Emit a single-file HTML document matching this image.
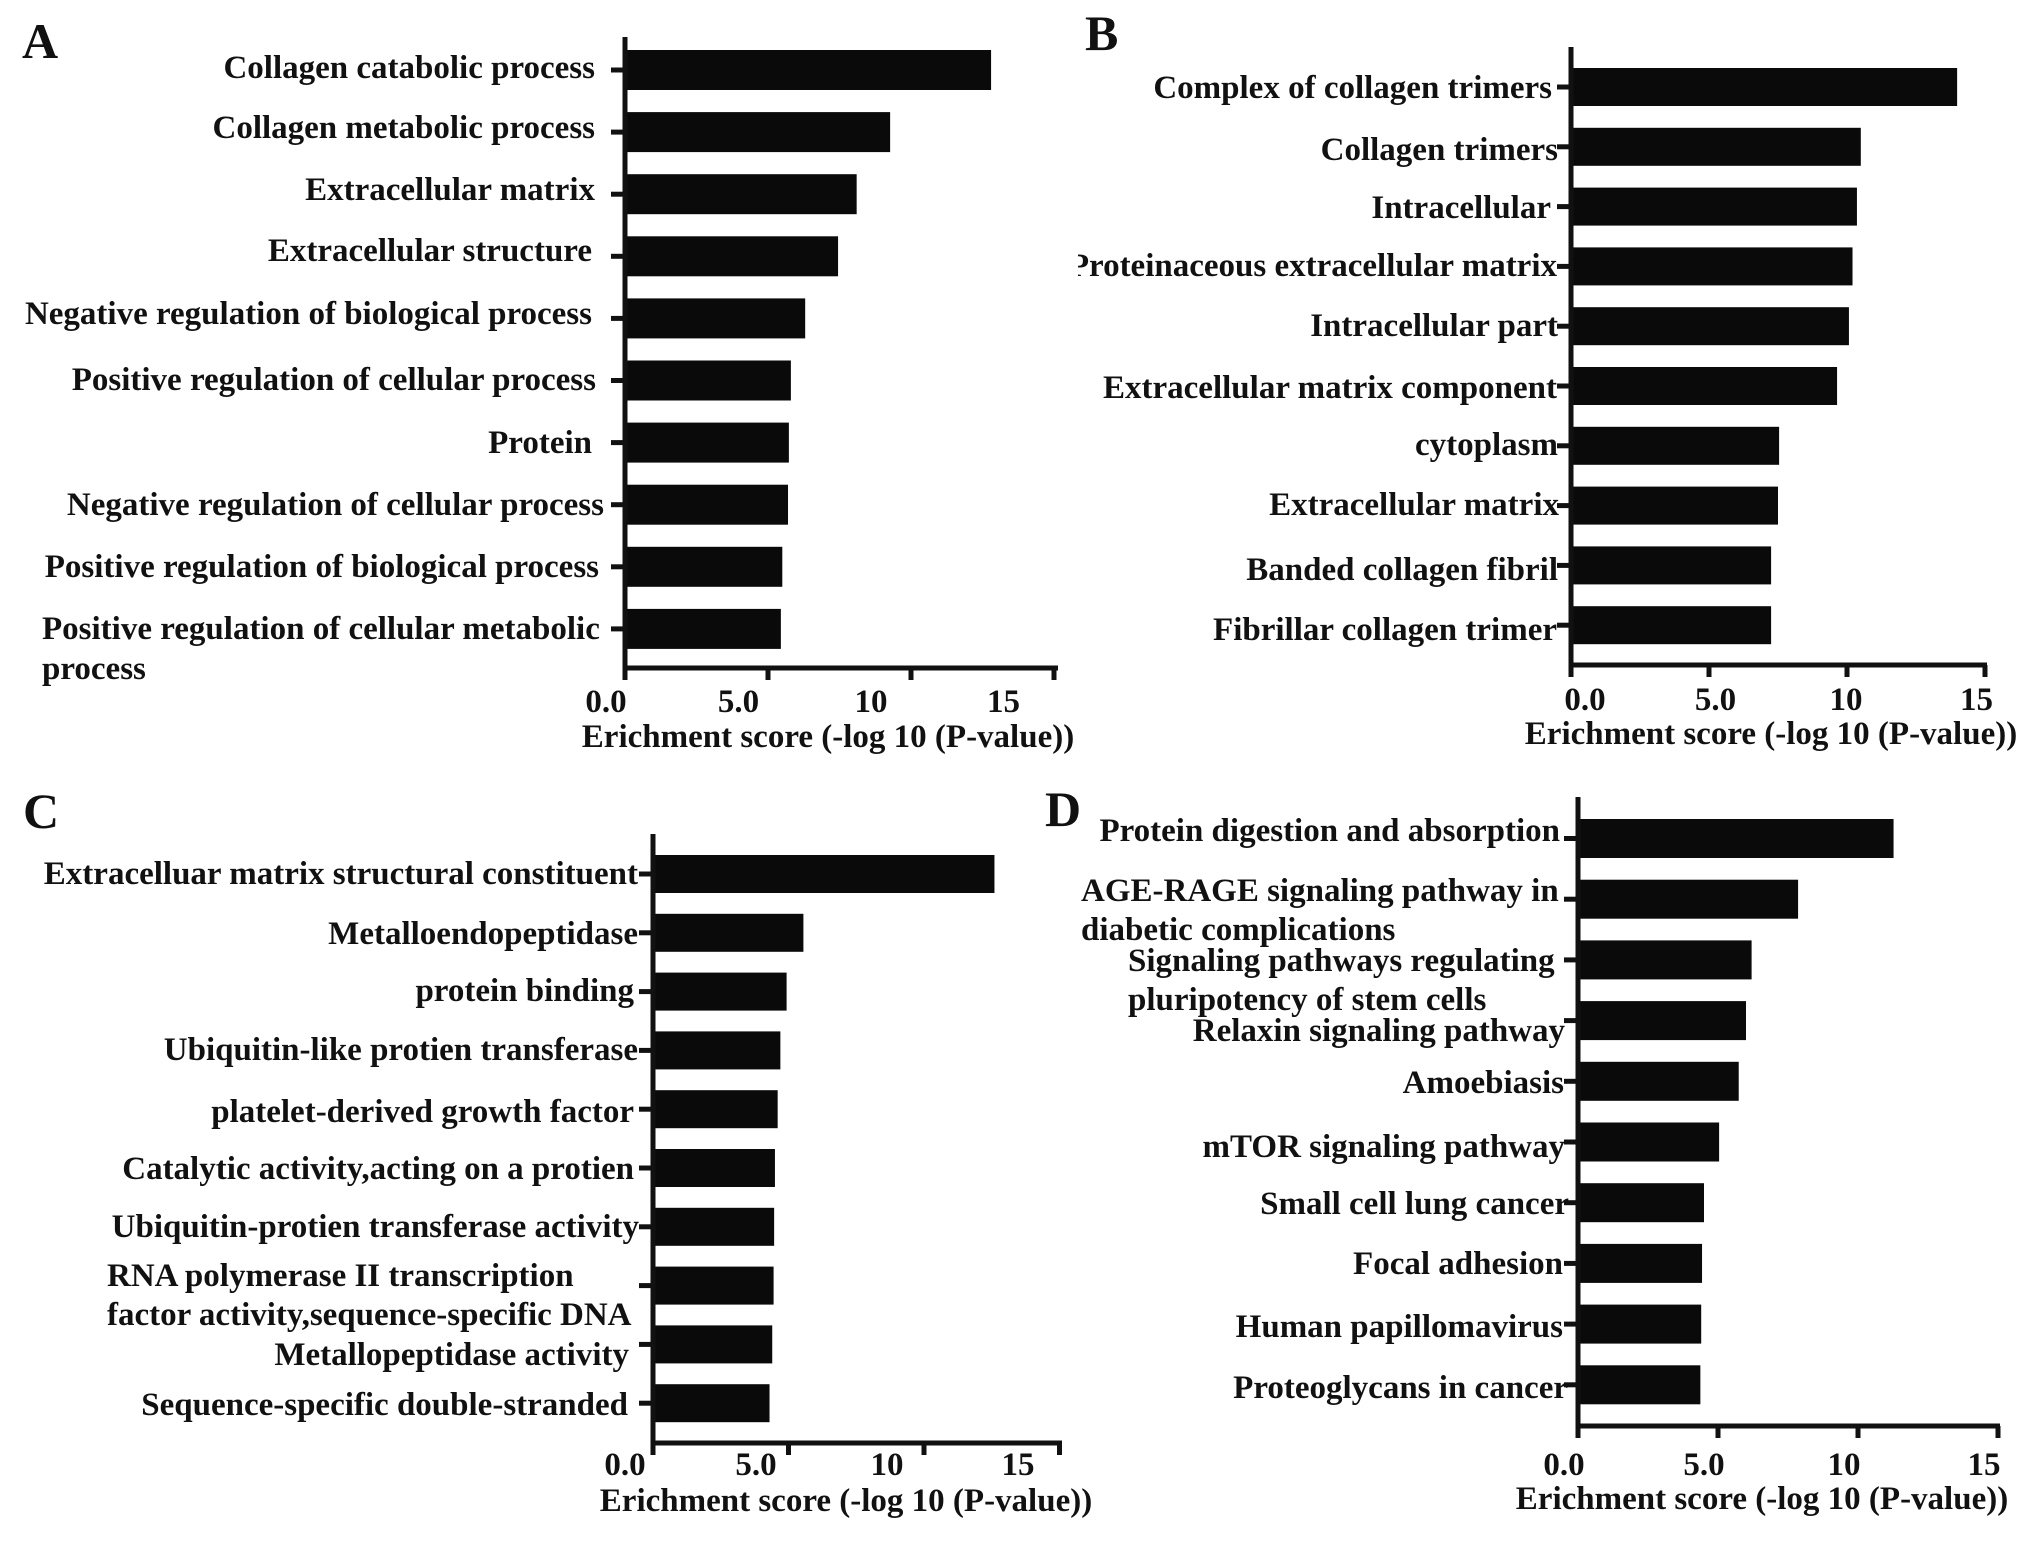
<!DOCTYPE html>
<html><head><meta charset="utf-8"><style>
html,body{margin:0;padding:0;background:#fff;}
svg{display:block;}
text{font-family:"Liberation Serif",serif;font-weight:bold;fill:#111;}
</style></head><body>
<svg id="fig" width="2031" height="1544" viewBox="0 0 2031 1544" xmlns="http://www.w3.org/2000/svg">
<defs><clipPath id="clipB"><rect x="1078" y="0" width="600" height="780"/></clipPath></defs>
<text x="22" y="58" font-size="50">A</text>
<text x="1085" y="50" font-size="50">B</text>
<text x="23" y="828" font-size="50">C</text>
<text x="1045" y="826" font-size="50">D</text>
</svg>
<script>
const tickValues=[0,5,10,15];
const tickLabels=["0.0","5.0","10","15"];
const aCategories=["Collagen catabolic process","Collagen metabolic process","Extracellular matrix","Extracellular structure","Negative regulation of biological process","Positive regulation of cellular process","Protein","Negative regulation of cellular process","Positive regulation of biological process","Positive regulation of cellular metabolic process"];
const aValues=[12.8,9.27,8.1,7.45,6.3,5.8,5.73,5.7,5.5,5.45];
const bCategories=["Complex of  collagen trimers","Collagen trimers","Intracellular","Proteinaceous extracellular matrix","Intracellular part","Extracellular matrix component","cytoplasm","Extracellular matrix","Banded collagen fibril","Fibrillar collagen trimer"];
const bValues=[13.99,10.5,10.36,10.2,10.07,9.64,7.54,7.5,7.25,7.25];
const cCategories=["Extracelluar matrix structural constituent","Metalloendopeptidase","protein binding","Ubiquitin-like protien transferase","platelet-derived growth factor","Catalytic activity,acting on a protien","Ubiquitin-protien transferase activity","RNA polymerase II transcription factor activity,sequence-specific DNA","Metallopeptidase activity","Sequence-specific double-stranded"];
const cValues=[12.6,5.55,4.93,4.7,4.6,4.5,4.47,4.45,4.4,4.3];
const dCategories=["Protein digestion and absorption","AGE-RAGE signaling pathway in diabetic complications","Signaling pathways regulating pluripotency of stem cells","Relaxin signaling pathway","Amoebiasis","mTOR signaling pathway","Small cell lung cancer","Focal adhesion","Human papillomavirus","Proteoglycans in cancer"];
const dValues=[11.27,7.86,6.2,6.0,5.74,5.04,4.5,4.43,4.4,4.37];
const axisTitle="Erichment score (-log 10 (P-value))";

const svg=document.getElementById('fig');
const NS="http://www.w3.org/2000/svg";
const FS=33;
function mk(tag,attrs,parent){const e=document.createElementNS(NS,tag);for(const k in attrs)e.setAttribute(k,attrs[k]);(parent||svg).appendChild(e);return e;}

const panels=[
 {id:'a',cats:aCategories,vals:aValues,x0:625,k:28.6,xEnd:1058,top:37,bottom:668,y0:70,dy:62.1,bh:40,lx0:606,lk:26.5,ly:702,tx:828,ty:737,
  labels:[[595,68,'end',[0]],[595,128,'end',[1]],[595,190,'end',[2]],[592,251,'end',[3]],[592,314,'end',[4]],[596,380,'end',[5]],[592,443,'end',[6]],[604,505,'end',[7]],[599,567,'end',[8]]],
  multi:[{x:42,anchor:'start',lines:[["Positive regulation of cellular metabolic",629],["process",669]]}]},
 {id:'b',cats:bCategories,vals:bValues,x0:1571,k:27.6,xEnd:1987,top:47,bottom:665,y0:87,dy:59.8,bh:38,lx0:1585,lk:26.1,ly:700,tx:1771,ty:734,
  labels:[[1552,88,'end',[0]],[1558,150,'end',[1]],[1551,208,'end',[2]],[1557,266,'end',[3]],[1558,326,'end',[4]],[1557,388,'end',[5]],[1558,445,'end',[6]],[1559,505,'end',[7]],[1558,570,'end',[8]],[1557,630,'end',[9]]],multi:[]},
 {id:'c',cats:cCategories,vals:cValues,x0:653,k:27.1,xEnd:1062,top:834,bottom:1443,y0:874,dy:58.8,bh:38,lx0:625,lk:26.2,ly:1465,tx:846,ty:1501,
  labels:[[638,874,'end',[0]],[638,934,'end',[1]],[634,991,'end',[2]],[638,1050,'end',[3]],[634,1112,'end',[4]],[634,1169,'end',[5]],[639,1227,'end',[6]],[629,1355,'end',[8]],[628,1405,'end',[9]]],
  multi:[{x:107,anchor:'start',lines:[["RNA polymerase II transcription",1276],["factor activity,sequence-specific DNA",1315]]}]},
 {id:'d',cats:dCategories,vals:dValues,x0:1578,k:28.0,xEnd:2000,top:797,bottom:1426,y0:838.5,dy:60.7,bh:39,lx0:1564,lk:28,ly:1465,tx:1762,ty:1499,
  labels:[[1560,831,'end',[0]],[1565,1031,'end',[3]],[1564,1083,'end',[4]],[1565,1147,'end',[5]],[1569,1204,'end',[6]],[1563,1264,'end',[7]],[1563,1327,'end',[8]],[1568,1388,'end',[9]]],
  multi:[{x:1081,anchor:'start',lines:[["AGE-RAGE signaling pathway in",891],["diabetic complications",930]]},{x:1128,anchor:'start',lines:[["Signaling pathways regulating",961],["pluripotency of stem cells",1000]]}]}
];

panels.forEach(p=>{
  const g=mk('g',{});
  
  
  const xs=v=>p.x0+v*p.k;
  const yc=i=>p.y0+i*p.dy;
  p.vals.forEach((v,i)=>{
    const r=mk('rect',{x:p.x0,y:yc(i)-p.bh/2,width:xs(v)-p.x0,height:p.bh,fill:'#0a0a0a'},g);
    
    
    const t=mk('line',{x1:p.x0-14,x2:p.x0,y1:yc(i),y2:yc(i),stroke:'#111','stroke-width':5},g);
    
    
  });
  const ya=mk('line',{x1:p.x0,x2:p.x0,y1:p.top,y2:p.bottom+2,stroke:'#111','stroke-width':5},g);
  
  
  const xa=mk('line',{x1:p.x0-2,x2:p.xEnd,y1:p.bottom,y2:p.bottom,stroke:'#111','stroke-width':5},g);
  
  
  tickValues.forEach((tv,i)=>{
    const tx=Math.min(xs(tv),p.xEnd-2);
    const tk=mk('line',{x1:tx,x2:tx,y1:p.bottom,y2:p.bottom+12,stroke:'#111','stroke-width':5},g);
    
    
    const tl=mk('text',{x:p.lx0+tv*p.lk,y:p.ly,'font-size':33,'text-anchor':'middle','dominant-baseline':'central'},g);
    tl.textContent=tickLabels[i];
    
    
  });
  const at=mk('text',{x:p.tx,y:p.ty,'font-size':FS,'text-anchor':'middle','dominant-baseline':'central'},g);
  at.textContent=axisTitle;
  
  
  const lg=mk('g',p.id==='b'?{'clip-path':'url(#clipB)'}:{},g);
  p.labels.forEach(l=>{
    const t=mk('text',{x:l[0],y:l[1],'font-size':FS,'text-anchor':l[2],'dominant-baseline':'central'},lg);
    t.textContent=p.cats[l[3][0]];
    
    
  });
  p.multi.forEach(m=>{
    m.lines.forEach(ln=>{
      const t=mk('text',{x:m.x,y:ln[1],'font-size':FS,'text-anchor':m.anchor,'dominant-baseline':'central'},lg);
      t.textContent=ln[0];
      
      
    });
  });
});
</script>
</body></html>
